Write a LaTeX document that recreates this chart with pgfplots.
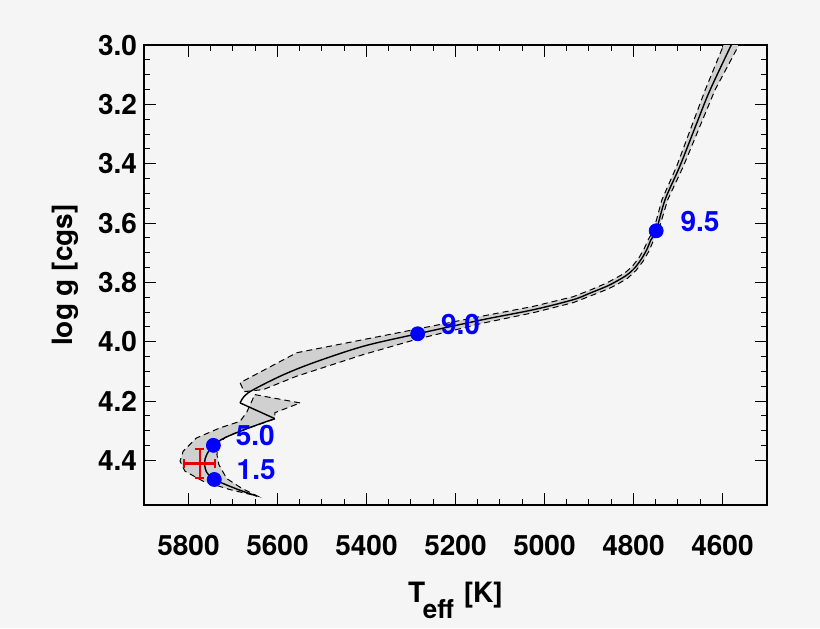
\documentclass[border=0pt]{standalone}
\usepackage{pgfplots}
\pgfplotsset{compat=1.18}
\usepackage{fontspec}
\setmainfont{TeX Gyre Heros}
\definecolor{bgcol}{RGB}{245,245,245}
\definecolor{bandgray}{RGB}{208,208,208}
\definecolor{errred}{RGB}{232,0,0}
\newcommand{\lblfont}{\fontsize{14}{14}\selectfont\bfseries}
\begin{document}
\begin{tikzpicture}
\path[use as bounding box, fill=bgcol] (-72pt,-61.5pt) rectangle (338pt,252.5pt);
\begin{axis}[
  at={(0,0)}, anchor=south west,
  scale only axis, width=311.5pt, height=230pt,
  x dir=reverse, y dir=reverse,
  xmin=4500, xmax=5900, ymin=3.0, ymax=4.55,
  xtick={4600,4800,5000,5200,5400,5600,5800},
  ytick={3.0,3.2,3.4,3.6,3.8,4.0,4.2,4.4},
  minor x tick num=3, minor y tick num=3,
  tick align=inside, tick pos=both, ticklabel pos=left,
  major tick length=6pt, minor tick length=3pt,
  axis line style={line width=0.8pt},
  every tick/.style={black, line width=0.5pt},
  /pgf/number format/assume math mode=true,
  tick label style={font=\lblfont},
  xticklabel style={/pgf/number format/1000 sep={}, yshift=-11.5pt},
  yticklabel style={/pgf/number format/.cd, fixed, fixed zerofill, precision=1},
  xlabel={T\kern-1.2pt\raisebox{-8pt}{\fontsize{13}{13}\selectfont eff}\hspace{5pt}[K]},
  ylabel={log g [cgs]},
  xlabel style={at={(axis description cs:0.5,-0.2065)}, anchor=center, font=\lblfont},
  ylabel style={at={(axis description cs:-0.126,0.5)}, anchor=center, font=\lblfont},
]
% uncertainty band of the track (subgiant and giant part)
\addplot[fill=bandgray, draw=black, dash pattern=on 3pt off 2pt, line width=0.5pt] coordinates {
  (4592,2.98) (4639,3.152) (4667,3.264) (4703,3.409) (4736,3.521) (4755,3.626)
  (4766.3,3.654) (4775.9,3.686) (4788.1,3.718) (4803.4,3.747) (4820.2,3.769)
  (4841.6,3.787) (4861.8,3.803) (4897.7,3.826) (4935.3,3.848) (5026,3.881)
  (5138,3.913) (5286,3.957) (5408,3.993) (5557,4.037) (5684,4.138) (5675,4.168)
  (5632,4.161) (5557,4.116) (5520,4.098) (5407,4.043) (5286,3.991) (5138,3.937)
  (5025,3.902) (4935.3,3.868) (4897.7,3.846) (4858.7,3.823) (4837.1,3.807)
  (4813.5,3.786) (4794.4,3.760) (4778.2,3.728) (4764.7,3.693) (4755.1,3.658)
  (4744,3.626) (4723,3.521) (4688,3.409) (4648,3.264) (4617,3.152) (4556,2.98)
} -- cycle;
% uncertainty band near the main sequence
\addplot[fill=bandgray, draw=black, dash pattern=on 3pt off 2pt, line width=0.5pt] coordinates {
  (5651,4.178) (5549,4.206) (5606,4.239) (5606,4.260) (5635,4.275) (5662,4.289)
  (5693,4.306) (5718,4.323) (5734,4.346) (5736,4.380) (5732,4.413) (5714,4.461)
  (5680,4.494) (5645,4.520) (5707,4.498) (5767,4.470) (5808,4.436) (5819,4.402)
  (5812,4.369) (5782,4.324) (5729,4.290) (5684,4.268) (5669,4.237)
} -- cycle;
% best-fit evolutionary track
\addplot[black, line width=0.7pt, smooth] coordinates {
  (5646,4.520) (5690,4.497) (5742,4.464) (5759,4.440) (5764,4.408) (5759,4.380)
  (5744,4.349) (5718,4.323) (5662,4.289) (5606,4.259)
};
\addplot[black, line width=0.7pt] coordinates {(5606,4.259) (5684,4.206)};
\addplot[black, line width=0.7pt, smooth] coordinates {
  (5684,4.206) (5666,4.172) (5594,4.116) (5520,4.071) (5407,4.015) (5285,3.973)
  (5137,3.925) (5025,3.892) (4935,3.858) (4897.7,3.836) (4860,3.813)
  (4839.3,3.797) (4816.8,3.777) (4798.9,3.754) (4783.1,3.723) (4770.3,3.690)
  (4760.7,3.656) (4749,3.626) (4729,3.521) (4696,3.409) (4658,3.264)
  (4628,3.152) (4574,2.98)
};
% observed position of the star: Teff = 5775 +- 35 K, log g = 4.41 +- 0.05
\addplot[color=errred, line width=1.1pt] coordinates {(5740,4.41) (5810,4.41)};
\addplot[color=errred, line width=1.1pt] coordinates {(5775,4.36) (5775,4.46)};
\addplot[color=errred, line width=1.1pt] coordinates {(5740,4.396) (5740,4.424)};
\addplot[color=errred, line width=1.1pt] coordinates {(5810,4.396) (5810,4.424)};
\addplot[color=errred, line width=1.1pt] coordinates {(5765,4.36) (5785,4.36)};
\addplot[color=errred, line width=1.1pt] coordinates {(5765,4.46) (5785,4.46)};
% ages along the track (Gyr)
\addplot[only marks, mark=*, mark size=3.5pt, blue] coordinates {
  (5742,4.464) (5744,4.349) (5285,3.973) (4749,3.626)
};
\node[anchor=west, inner sep=0pt, text=blue, font=\lblfont, xshift=11pt, yshift=4.75pt] at (axis cs:5742,4.464) {1.5};
\node[anchor=west, inner sep=0pt, text=blue, font=\lblfont, xshift=11pt, yshift=4.75pt] at (axis cs:5744,4.349) {5.0};
\node[anchor=west, inner sep=0pt, text=blue, font=\lblfont, xshift=11.5pt, yshift=4.75pt] at (axis cs:5285,3.973) {9.0};
\node[anchor=west, inner sep=0pt, text=blue, font=\lblfont, xshift=12pt, yshift=4.75pt] at (axis cs:4749,3.626) {9.5};
\end{axis}
\end{tikzpicture}
\end{document}
